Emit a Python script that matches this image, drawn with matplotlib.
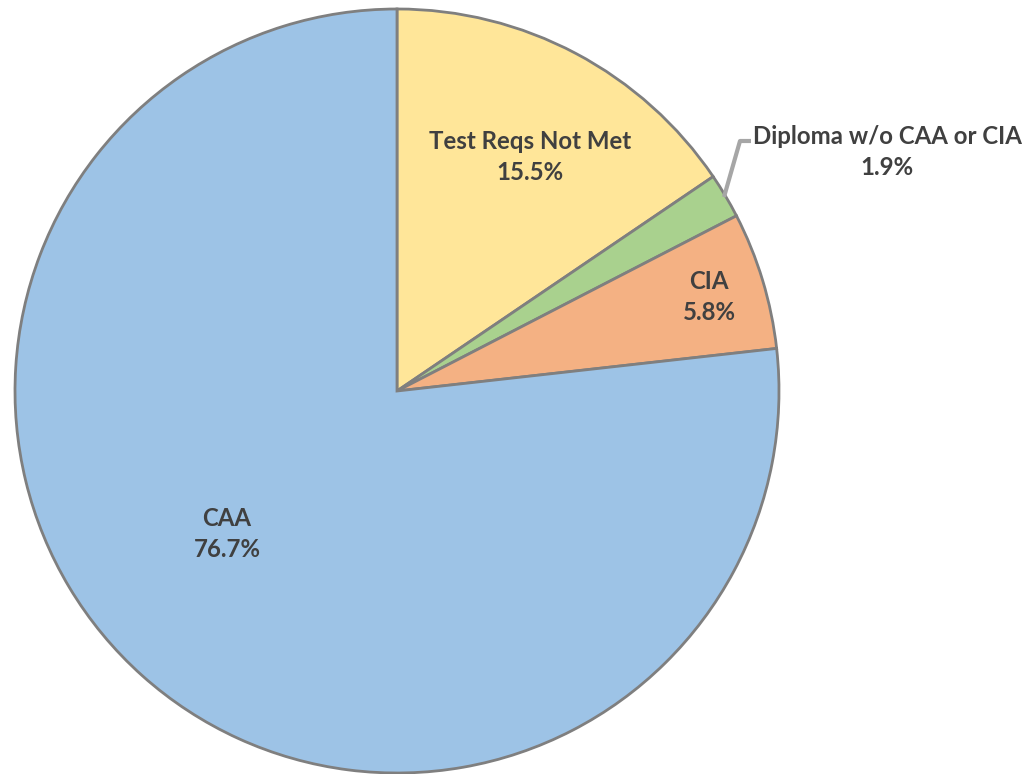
import matplotlib
matplotlib.use('Agg')
import matplotlib.pyplot as plt

labels = ['Test Reqs Not Met', 'Diploma w/o CAA or CIA', 'CIA', 'CAA']
shares = [15.5, 1.9, 5.8, 76.7]
colors = ['#FFE699', '#A9D18E', '#F4B183', '#9DC3E6']

plt.rcParams['font.family'] = ['Lato', 'DejaVu Sans']

fig = plt.figure(figsize=(10.27, 7.74), dpi=100)
ax = fig.add_axes([0, 0, 1, 1])

cx, cy, r = 397, 383, 382
wedges, _ = ax.pie(shares, colors=colors, startangle=90, counterclock=False,
                   center=(cx, cy), radius=r, frame=True,
                   wedgeprops=dict(edgecolor='#7F7F7F', linewidth=2))
ax.set_xlim(0, 1027)
ax.set_ylim(0, 774)
ax.set_aspect('equal')
ax.axis('off')

txt = dict(ha='center', va='center', color='#404040', fontsize=17.3,
           fontweight='bold', linespacing=1.42)
# label positions in pixel coords (y from top)
pos = {'Test Reqs Not Met': (530, 157), 'CIA': (709, 297),
       'CAA': (227, 534), 'Diploma w/o CAA or CIA': (887, 152)}
for lab, val in zip(labels, shares):
    x, y = pos[lab]
    ax.text(x, 774 - y, '{}\n{:.1f}%'.format(lab, val), **txt)

# leader line for the small slice
ax.plot([724, 740, 751], [774 - 197, 774 - 141, 774 - 141],
        color='#A6A6A6', linewidth=3, solid_capstyle='butt')

fig.savefig('out.png', dpi=100)
